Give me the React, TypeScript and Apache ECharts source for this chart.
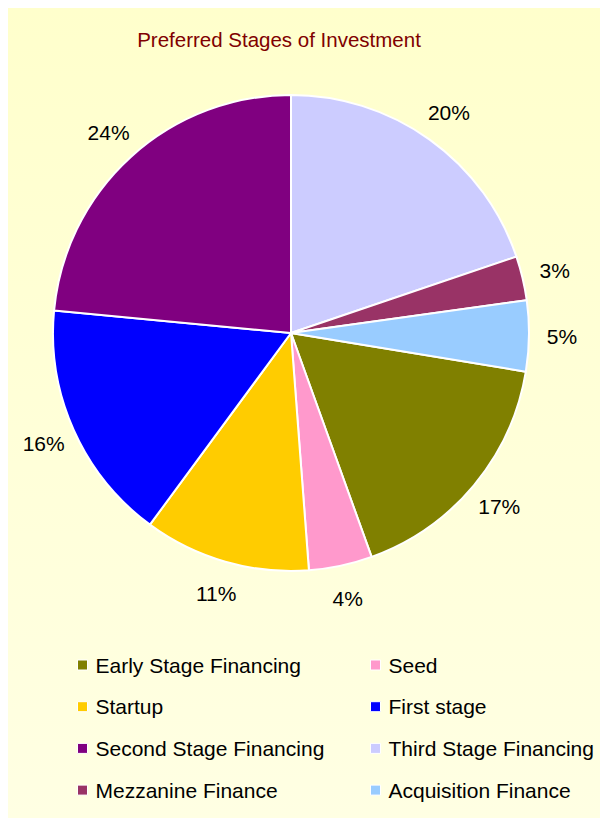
import React, { useEffect, useRef } from "react";
import * as echarts from "echarts";

const categories = [
  "Early Stage Financing",
  "Seed",
  "Startup",
  "First stage",
  "Second Stage Financing",
  "Third Stage Financing",
  "Mezzanine Finance",
  "Acquisition Finance",
];
// shares in percent (labels show rounded values)
const shares = [16.9, 4.3, 11.3, 16.4, 23.5, 19.8, 3.0, 4.8];
const colors = ["#808000", "#FF99CC", "#FFCC00", "#0000FF", "#800080", "#CCCCFF", "#993366", "#99CCFF"];
const legendLeft = ["Early Stage Financing", "Startup", "Second Stage Financing", "Mezzanine Finance"];
const legendRight = ["Seed", "First stage", "Third Stage Financing", "Acquisition Finance"];
const title = "Preferred Stages of Investment";

const FONT = "'Liberation Sans', Arial, sans-serif";

export default function App() {
  const ref = useRef<HTMLDivElement>(null);
  useEffect(() => {
    document.body.style.overflow = "hidden";
    const chart = echarts.init(ref.current!, null, { renderer: "svg" });
    const total = shares.reduce((a, b) => a + b, 0);
    // first slice (Early Stage) starts after Third, Mezzanine and Acquisition, which begin at 12 o'clock
    const before = shares[5] + shares[6] + shares[7];
    const startAngle = 90 - (before / total) * 360;
    const data = categories.map((name, i) => ({
      name,
      value: shares[i],
      itemStyle: { color: colors[i] },
    }));
    const legendCommon = {
      orient: "vertical" as const,
      top: 646,
      padding: 0,
      itemWidth: 10,
      itemHeight: 10,
      itemGap: 19.7,
      icon: "rect",
      itemStyle: { borderColor: "#FFFFFF", borderWidth: 1 },
      textStyle: {
        fontFamily: FONT,
        fontSize: 21,
        color: "#000000",
        lineHeight: 22,
        padding: [0, 0, 0, 3],
      },
      selectedMode: false,
    };
    chart.setOption({
      animation: false,
      backgroundColor: {
        type: "linear",
        x: 0,
        y: 0,
        x2: 0,
        y2: 1,
        colorStops: [
          { offset: 0, color: "#FFFFCC" },
          { offset: 1, color: "#FFFFE3" },
        ],
      },
      title: {
        text: title,
        left: 271,
        top: 21,
        padding: 0,
        textAlign: "center",
        textStyle: { fontFamily: FONT, fontSize: 20.5, fontWeight: "normal", color: "#800000" },
      },
      legend: [
        { ...legendCommon, left: 69, data: legendLeft },
        { ...legendCommon, left: 362, data: legendRight },
      ],
      series: [
        {
          type: "pie",
          center: [283, 325],
          radius: [0, 238],
          startAngle,
          clockwise: true,
          silent: true,
          itemStyle: { borderColor: "#FFFFFF", borderWidth: 2 },
          label: { show: false },
          labelLine: { show: false },
          data,
        },
        {
          type: "pie",
          center: [283, 325],
          radius: [238, 298],
          startAngle,
          clockwise: true,
          silent: true,
          itemStyle: { color: "rgba(0,0,0,0)", borderWidth: 0 },
          label: {
            show: true,
            position: "inside",
            formatter: (p: any) => Math.round(p.value) + "%",
            fontFamily: FONT,
            fontSize: 21,
            color: "#000000",
          },
          labelLine: { show: false },
          data: categories.map((name, i) => ({ name, value: shares[i] })),
        },
      ],
    });
    return () => chart.dispose();
  }, []);
  return <div ref={ref} style={{ width: 600, height: 810 }} />;
}
